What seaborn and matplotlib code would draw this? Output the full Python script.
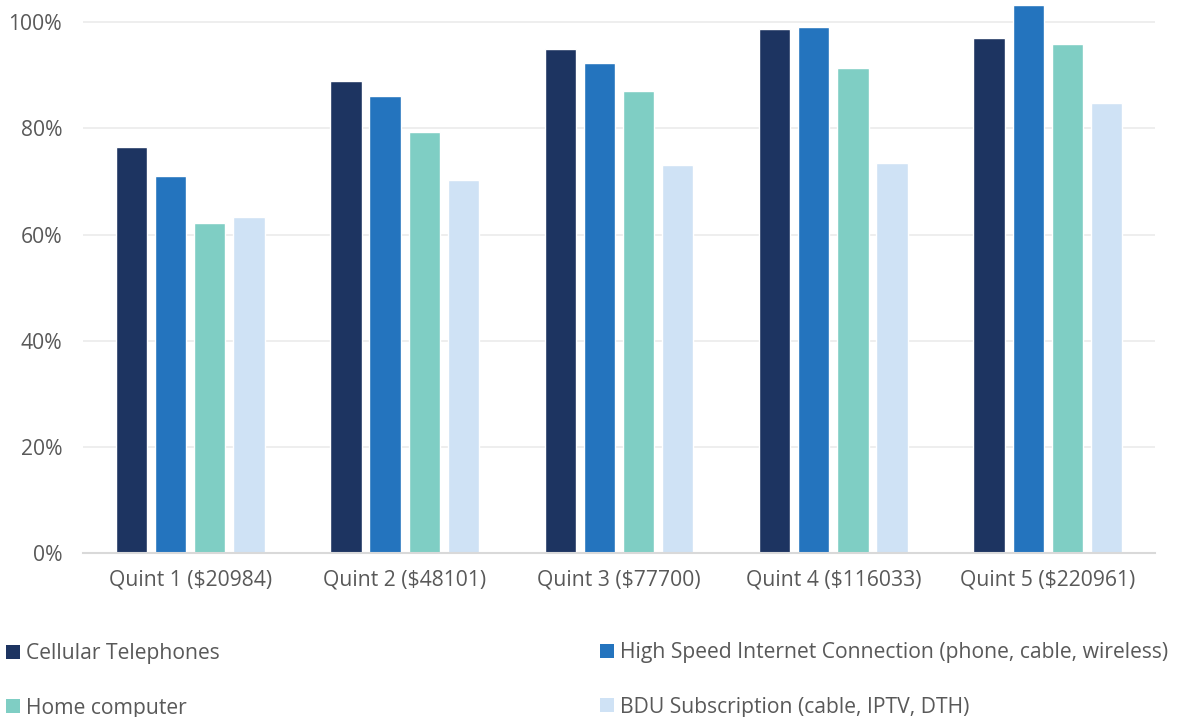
import matplotlib
matplotlib.use("Agg")
import matplotlib.pyplot as plt
import seaborn as sns
import pandas as pd
from matplotlib.patches import Patch

categories = ["Quint 1 ($20984)", "Quint 2 ($48101)", "Quint 3 ($77700)",
              "Quint 4 ($116033)", "Quint 5 ($220961)"]
series = ["Cellular Telephones",
          "High Speed Internet Connection (phone, cable, wireless)",
          "Home computer",
          "BDU Subscription (cable, IPTV, DTH)"]
cellular = [76.5, 88.9, 94.9, 98.7, 97.0]
internet = [71.0, 86.1, 92.3, 99.2, 103.2]
computer = [62.1, 79.3, 87.0, 91.3, 95.9]
bdu = [63.3, 70.2, 73.1, 73.4, 84.7]
colors = ["#1d3461", "#2474be", "#7fcec4", "#cfe2f5"]
yticks = [0, 20, 40, 60, 80, 100]
ytick_labels = ["0%", "20%", "40%", "60%", "80%", "100%"]

rows = []
for s, vals in zip(series, [cellular, internet, computer, bdu]):
    for c, v in zip(categories, vals):
        rows.append({"cat": c, "series": s, "value": v})
df = pd.DataFrame(rows)

sns.set_theme(style="white")
plt.rcParams["font.family"] = ["Open Sans", "DejaVu Sans"]
text_color = "#595959"
fs = 15.2

fig = plt.figure(figsize=(11.8, 7.17), dpi=100)
ax = fig.add_axes([83/1180, 1-553/717, (1155-83)/1180, 553/717])

sns.barplot(data=df, x="cat", y="value", hue="series", order=categories,
            hue_order=series, palette=colors, width=0.73, gap=0.2,
            saturation=1, legend=False, ax=ax, errorbar=None)

ax.set_ylim(0, 104.2)
ax.set_xlim(-0.5, 4.5)
ax.set_yticks(yticks)
ax.set_yticklabels(ytick_labels)
ax.set_xlabel("")
ax.set_ylabel("")
ax.yaxis.grid(True, color="#ebebeb", linewidth=1.2)
ax.set_axisbelow(True)
for sp in ["top", "right", "left"]:
    ax.spines[sp].set_visible(False)
ax.spines["bottom"].set_color("#d9d9d9")
ax.spines["bottom"].set_linewidth(1.5)
ax.tick_params(axis="y", length=0, pad=15, labelsize=fs, labelcolor=text_color)
ax.tick_params(axis="x", length=0, pad=12, labelsize=fs, labelcolor=text_color)
for p in ax.patches:
    p.set_clip_on(False)

handles = [Patch(facecolor=c, edgecolor="none") for c in colors]
leg_kw = dict(frameon=False, fontsize=fs, handlelength=0.65, handleheight=0.65,
              handletextpad=0.3, labelspacing=1.6, loc="upper left",
              borderaxespad=0, borderpad=0, labelcolor=text_color)
l1 = fig.legend([handles[0], handles[2]], [series[0], series[2]],
                bbox_to_anchor=(6/1180, 1-643/717), **leg_kw)
l2 = fig.legend([handles[1], handles[3]], [series[1], series[3]],
                bbox_to_anchor=(600/1180, 1-642/717), **leg_kw)

fig.savefig("out.png", dpi=100)
